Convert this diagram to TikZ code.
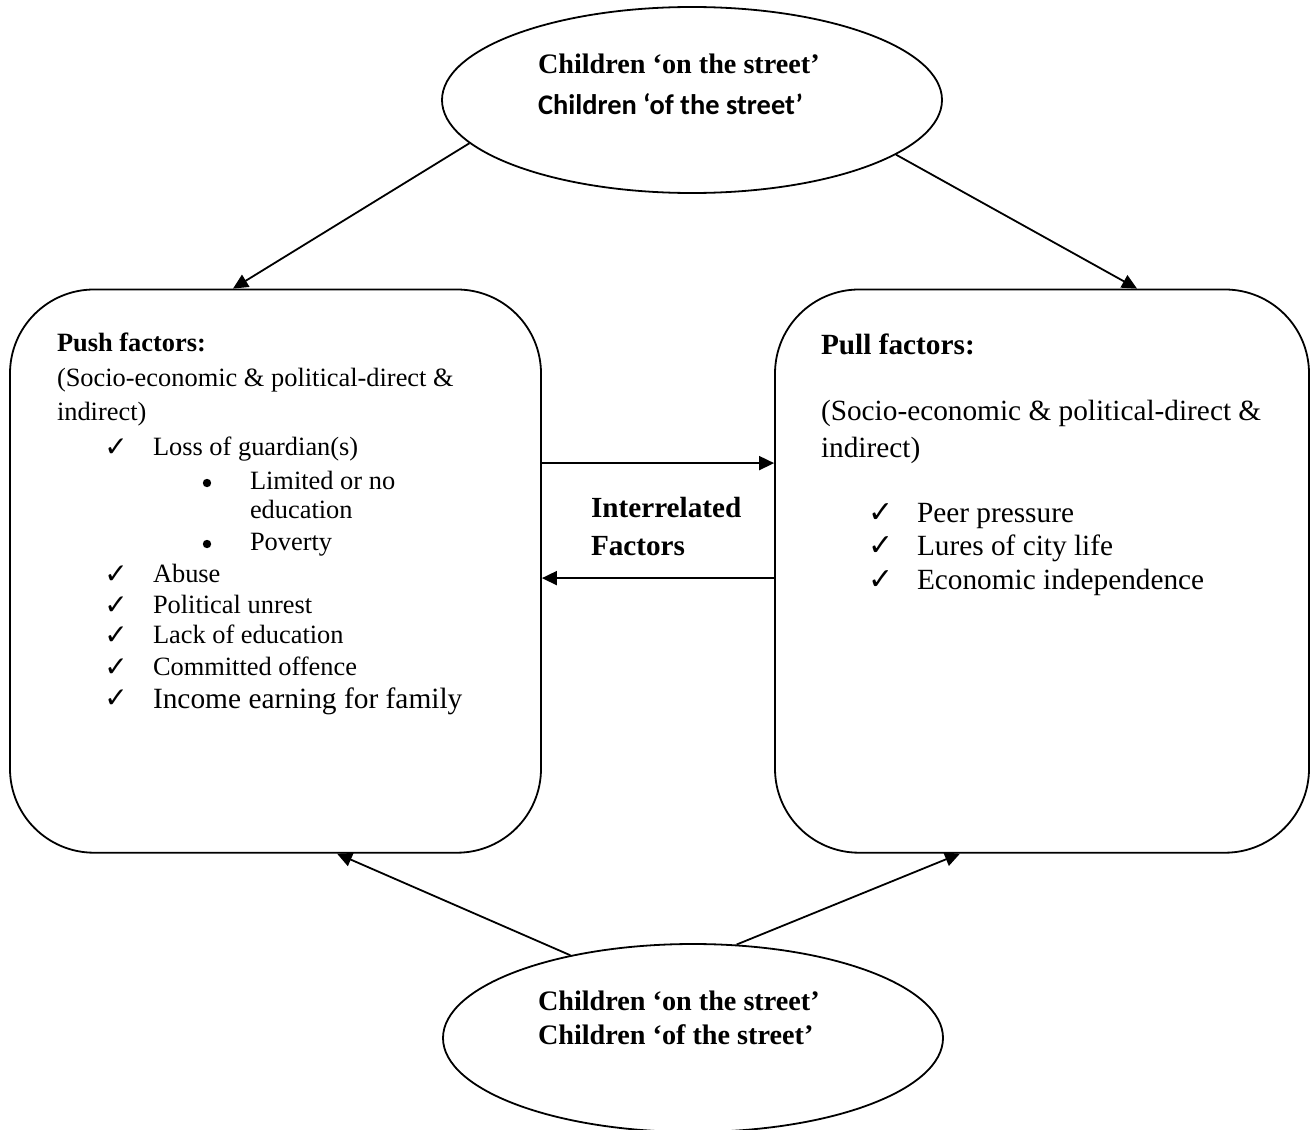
\documentclass[tikz,border=0pt]{standalone}
\usepackage{fontspec}
\setmainfont{Liberation Serif}
\newfontfamily\calibri{Carlito}
\newfontfamily\symfont{DejaVu Sans}
\usetikzlibrary{shapes.geometric,arrows.meta,calc}

\begin{document}
\begin{tikzpicture}[x=0.5pt,y=-0.5pt,
  outline/.style={draw=black,line width=0.9pt},
  oval/.style={outline,ellipse,inner sep=0pt,minimum width=250pt},
  factorbox/.style={outline,rectangle,rounded corners=42pt,inner sep=0pt},
  link/.style={line width=0.9pt,-{Triangle[length=7.5pt,width=7pt]}},
  textline/.style={anchor=base west,inner sep=0pt,outer sep=0pt},
  tick/.style={anchor=base,inner sep=0pt,outer sep=0pt,font=\fontsize{14pt}{16pt}\symfont},
  bigtick/.style={tick,font=\fontsize{15pt}{17pt}\symfont},
  dot/.style={circle,fill=black,inner sep=0pt,minimum size=4.2pt},
  leftfont/.style={font=\fontsize{13.2pt}{15pt}\selectfont},
  rightfont/.style={font=\fontsize{14.65pt}{17pt}\selectfont},
  titlefont/.style={font=\fontsize{14.1pt}{17pt}\selectfont\bfseries},
]
\useasboundingbox (0,0) rectangle (1315,1129);

% ovals and factor boxes
\node[oval,minimum height=93pt] (topE) at (692,100) {};
\node[oval,minimum height=94pt] (botE) at (693,1038) {};
\node[factorbox,minimum width=265.5pt,minimum height=281.6pt] (push) at (275.5,571.1) {};
\node[factorbox,minimum width=267pt,minimum height=281.6pt] (pull) at (1042,571.1) {};

% oval labels
\node[textline,titlefont] (t1) at (538,74) {Children ‘on the street’};
\node[textline,font=\fontsize{14.2pt}{17pt}\calibri\bfseries] (t2) at (538,114) {Children ‘of the street’};
\node[textline,titlefont] (b1) at (538,1010) {Children ‘on the street’};
\node[textline,titlefont] (b2) at (538,1044) {Children ‘of the street’};

% push factors
\node[textline,leftfont] (pushhead) at (57,351) {\textbf{Push factors:}};
\node[textline,leftfont] (pushsub1) at (57,386) {(Socio-economic \& political-direct \&};
\node[textline,leftfont] (pushsub2) at (57,420) {indirect)};
\node[tick] (pc1) at (116,456) {✓};
\node[textline,leftfont] (pi1) at (153,455) {Loss of guardian(s)};
\node[dot] (pb1) at (207,483) {};
\node[textline,leftfont] (ps1) at (250,489) {Limited or no};
\node[textline,leftfont] (ps1b) at (250,518) {education};
\node[dot] (pb2) at (207,544) {};
\node[textline,leftfont] (ps2) at (250,550) {Poverty};
\node[tick] (pc2) at (116,583) {✓};
\node[textline,leftfont] (pi2) at (153,582) {Abuse};
\node[tick] (pc3) at (116,614) {✓};
\node[textline,leftfont] (pi3) at (153,613) {Political unrest};
\node[tick] (pc4) at (116,644) {✓};
\node[textline,leftfont] (pi4) at (153,643) {Lack of education};
\node[tick] (pc5) at (116,676) {✓};
\node[textline,leftfont] (pi5) at (153,675) {Committed offence};
\node[tick] (pc6) at (116,707) {✓};
\node[textline,font=\fontsize{14.7pt}{17pt}\selectfont] (pi6) at (153,708) {Income earning for family};

% pull factors
\node[textline,rightfont] (pullhead) at (821,354) {\textbf{Pull factors:}};
\node[textline,rightfont] (pullsub1) at (821,420) {(Socio-economic \& political-direct \&};
\node[textline,rightfont] (pullsub2) at (821,457) {indirect)};
\node[bigtick] (qc1) at (881,522) {✓};
\node[textline,rightfont] (qi1) at (917,522) {Peer pressure};
\node[bigtick] (qc2) at (881,555) {✓};
\node[textline,rightfont] (qi2) at (917,555) {Lures of city life};
\node[bigtick] (qc3) at (881,589) {✓};
\node[textline,rightfont] (qi3) at (917,589) {Economic independence};

% middle label
\node[textline,font=\fontsize{14.6pt}{17pt}\selectfont\bfseries] (mid1) at (591,517) {Interrelated};
\node[textline,font=\fontsize{14.6pt}{17pt}\selectfont\bfseries] (mid2) at (591,555) {Factors};

% connectors
\draw[link] (topE.191) -- ($(push.north)+(-42.5,0)$);
\draw[link] (topE.345) -- ($(pull.north)+(95,0)$);
\draw[link] (botE.146) -- ($(push.south)+(61.5,0)$);
\draw[link] (botE.65) -- ($(pull.south)+(-82,0)$);
\draw[link] ($(push.east)+(0,-108)$) -- ($(pull.west)+(0,-108)$);
\draw[link] ($(pull.west)+(0,7)$) -- ($(push.east)+(0,7)$);
\end{tikzpicture}
\end{document}
